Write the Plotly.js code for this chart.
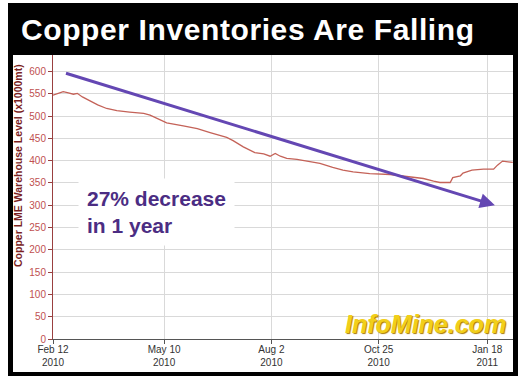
<!DOCTYPE html>
<html>
<head>
<meta charset="utf-8">
<script src="https://cdn.plot.ly/plotly-3.0.1.min.js"></script>
<style>
html,body{margin:0;padding:0;background:#fff;}
#chart{width:520px;height:378px;}
#chart .gtitle{letter-spacing:0.6px;}
</style>
</head>
<body>
<div id="chart"></div>
<script>
// ---- data ----
const dates = [
 '2010-02-12','2010-02-14','2010-02-20','2010-02-24','2010-02-28','2010-03-03','2010-03-07',
 '2010-03-13','2010-03-19','2010-03-26','2010-04-03','2010-04-13','2010-04-24','2010-04-29',
 '2010-05-07','2010-05-12','2010-05-25','2010-06-05','2010-06-15','2010-06-28','2010-07-03',
 '2010-07-11','2010-07-20','2010-07-27','2010-08-01','2010-08-05','2010-08-09','2010-08-14',
 '2010-08-22','2010-09-01','2010-09-09','2010-09-19','2010-09-27','2010-10-05','2010-10-10',
 '2010-10-18','2010-11-03','2010-11-19','2010-11-29','2010-12-07','2010-12-12','2010-12-20',
 '2010-12-22','2010-12-28','2010-12-30','2011-01-06','2011-01-15','2011-01-23','2011-01-26',
 '2011-01-30','2011-02-02','2011-02-07'
];
const inventory = [
 547,549,555,552,549,551,543,
 534,525,517,512,509,506,502,
 491,485,478,472,463,452,445,
 431,418,415,410,416,410,405,
 403,398,394,385,379,375,373,
 371,369,364,360,354,351,351,
 362,366,372,379,381,381,390,
 399,398,396
];
const tickDates = ['2010-02-12','2010-05-10','2010-08-02','2010-10-25','2011-01-18'];
const tickLabels = ['Feb 12<br>2010','May 10<br>2010','Aug 2<br>2010','Oct 25<br>2010','Jan 18<br>2011'];
const yTicks = [0,50,100,150,200,250,300,350,400,450,500,550,600];
const trendStart = {date:'2010-02-21', value:597};
const trendEnd = {date:'2011-01-24', value:300};
const titleText = 'Copper Inventories Are Falling';
const yTitleText = 'Copper LME Warehouse Level (x1000mt)';
const noteText = '27% decrease<br>in 1 year';
const watermark = 'InfoMine.com';

// ---- layout helpers (pixel -> paper) ----
const W = 520, H = 378;
const M = {l:53, r:7, t:55, b:39};
const PW = W - M.l - M.r, PH = H - M.t - M.b;
const px = x => (x - M.l) / PW;
const py = y => (H - M.b - y) / PH;

const trace = {
  x: dates, y: inventory, type:'scatter', mode:'lines',
  line:{color:'#c46258', width:1.3}, hoverinfo:'skip'
};

const layout = {
  width: W, height: H,
  margin: M,
  paper_bgcolor:'#ffffff',
  plot_bgcolor:'#ffffff',
  showlegend:false,
  font:{family:'Arial, "Liberation Sans", sans-serif'},
  title:{
    text: titleText,
    font:{family:'Arial, "Liberation Sans", sans-serif', size:30, color:'#ffffff', weight:'bold'},
    xref:'container', yref:'container',
    x: 21/W, xanchor:'left',
    y: 1 - 29/H, yanchor:'middle'
  },
  xaxis:{
    type:'date',
    range:['2010-02-12','2011-02-07 04:00'],
    tickvals: tickDates, ticktext: tickLabels,
    tickfont:{size:10, color:'#333333'},
    ticklabelstandoff:-3,
    showgrid:true, gridcolor:'#d9d9d9', gridwidth:1,
    showline:true, linecolor:'#555555', linewidth:1,
    ticks:'outside', ticklen:4, tickcolor:'#555555',
    zeroline:false, fixedrange:true
  },
  yaxis:{
    range:[0,637],
    tickvals: yTicks,
    tickfont:{size:10, color:'#c05050'},
    showgrid:true, gridcolor:'#d9d9d9', gridwidth:1,
    showline:true, linecolor:'#9a4040', linewidth:1,
    ticks:'outside', ticklen:4, tickcolor:'#9a4040',
    zeroline:false, fixedrange:true
  },
  shapes:[
    {type:'rect', xref:'paper', yref:'paper', layer:'below',
     x0:px(8), x1:px(518), y0:py(376), y1:py(3),
     fillcolor:'#000000', line:{width:0}},
    {type:'rect', xref:'paper', yref:'paper', layer:'below',
     x0:px(13), x1:px(513), y0:py(372), y1:py(55),
     fillcolor:'#ffffff', line:{width:0}}
  ],
  annotations:[
    {text: yTitleText, xref:'paper', yref:'paper', x:px(18), y:py(166),
     showarrow:false, textangle:-90, xanchor:'center', yanchor:'middle',
     font:{size:10.5, color:'#7b1f1f', weight:'bold'}},
    {text: watermark, xref:'paper', yref:'paper', x:px(425), y:py(324),
     showarrow:false, xanchor:'center', yanchor:'middle',
     font:{size:25, color:'#f2cf1a', weight:'bold', style:'italic', shadow:'1px 1px 1px #a87a00'}},
    {text: noteText, xref:'paper', yref:'paper', x:px(78), y:py(178),
     showarrow:false, xanchor:'left', yanchor:'top', align:'left',
     bgcolor:'#ffffff', borderpad:8,
     font:{size:21, color:'#4b2d83', weight:'bold'}},
    {text:'', x: trendEnd.date, y: trendEnd.value, xref:'x', yref:'y',
     ax: trendStart.date, ay: trendStart.value, axref:'x', ayref:'y',
     showarrow:true, arrowhead:2, arrowsize:1, arrowwidth:3, arrowcolor:'#6447b3'}
  ]
};

Plotly.newPlot('chart', [trace], layout, {displayModeBar:false, staticPlot:true});
</script>
</body>
</html>
